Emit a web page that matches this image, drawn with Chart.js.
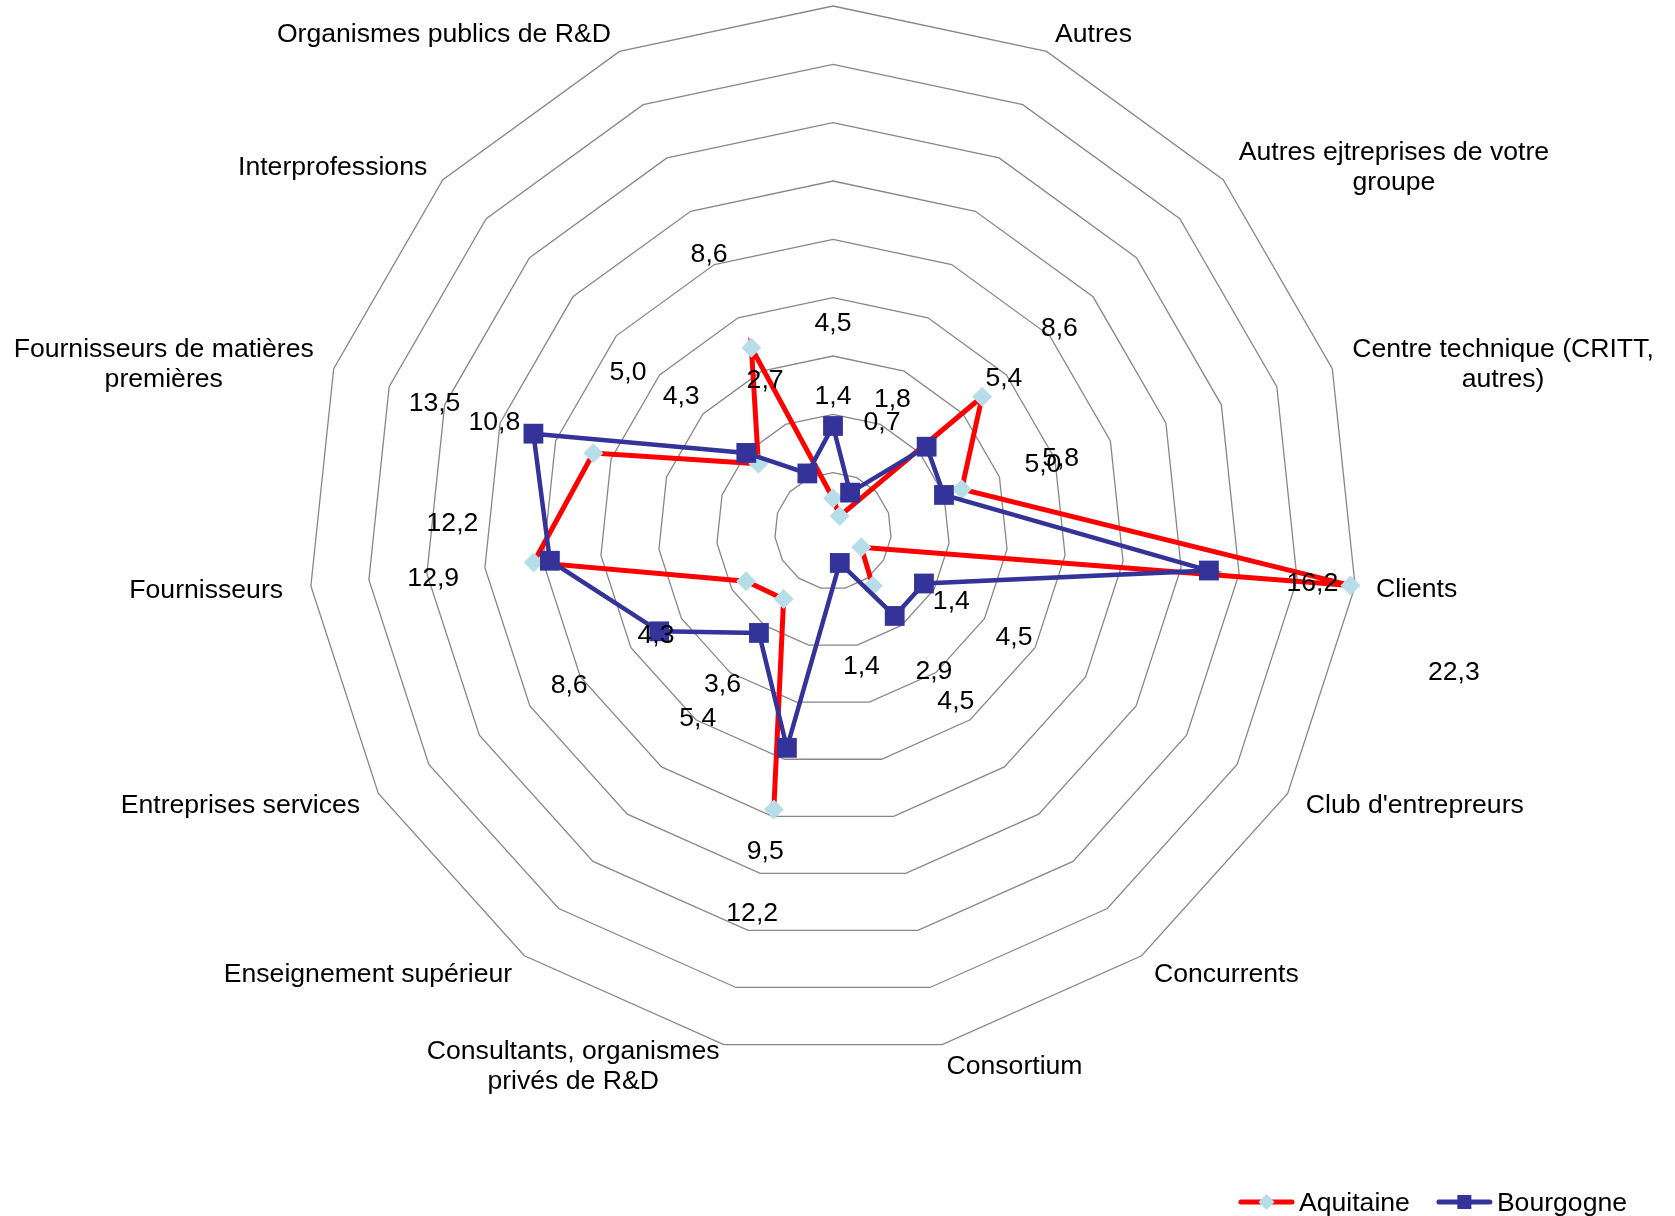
<!DOCTYPE html>
<html><head><meta charset="utf-8">
<script src="https://cdn.jsdelivr.net/npm/chart.js@4/dist/chart.umd.min.js"></script>
<style>html,body{margin:0;padding:0;background:#fff}canvas{display:block}</style>
</head><body>
<canvas id="c" width="1675" height="1216"></canvas>
<script>
// ---- data ----
const categories = ["", "Autres", ["Autres ejtreprises de votre", "groupe"], ["Centre technique (CRITT,", "autres)"],
  "Clients", "Club d'entrepreurs", "Concurrents", "Consortium", ["Consultants, organismes", "privés de R&D"],
  "Enseignement supérieur", "Entreprises services", "Fournisseurs", ["Fournisseurs de matières", "premières"],
  "Interprofessions", "Organismes publics de R&D"];
const aquitaine = [1.4, 0.7, 8.6, 5.8, 22.3, 1.4, 2.9, null, 12.2, 3.6, 4.3, 12.9, 10.8, 4.3, 8.6];
const bourgogne = [4.5, 1.8, 5.4, 5.0, 16.2, 4.5, 4.5, 1.4, 9.5, 5.4, 8.6, 12.2, 13.5, 5.0, 2.7];
const seriesNames = ["Aquitaine", "Bourgogne"];
const scaleMax = 22.5;
const scaleStep = 2.5;

// ---- style ----
const FONT = '26.6px "Liberation Sans", Arial, sans-serif';
const TEXT_DY = 2;
const RED = '#FF0000', BLUE = '#333399', CYAN = '#B7DEE8';
const valueLabelOffset = 104;
const valueLabelNudge = { '0:4': [0, 74], '1:11': [6, -50], '0:11': [3, 3], '1:13': [-41, -13] };
const pointLabelPad = 21;
const pointLabelExtraPad = { 11: 7 };

const pointLabelPlugin = {
  id: 'pointLabelsExcel',
  afterDraw(chart) {
    const s = chart.scales.r, ctx = chart.ctx;
    ctx.save();
    ctx.font = FONT; ctx.fillStyle = '#000'; ctx.textBaseline = 'middle'; ctx.textAlign = 'center';
    const lh = 30;
    chart.data.labels.forEach((lab, i) => {
      const lines = Array.isArray(lab) ? lab : [lab];
      if (!lines.join('')) return;
      const p = s.getPointPosition(i, s.drawingArea + pointLabelPad + (pointLabelExtraPad[i] || 0));
      const c = Math.cos(p.angle);
      const w = Math.max(...lines.map(l => ctx.measureText(l).width));
      let left;
      if (Math.abs(c) < 1e-3) left = p.x - w / 2;
      else if (c > 0) left = p.x;
      else left = p.x - w;
      lines.forEach((l, j) => ctx.fillText(l, left + w / 2, p.y + TEXT_DY + (j - (lines.length - 1) / 2) * lh));
    });
    ctx.restore();
  }
};

const valueLabelPlugin = {
  id: 'valueLabels',
  afterDatasetsDraw(chart) {
    const s = chart.scales.r, ctx = chart.ctx;
    ctx.save();
    ctx.font = FONT; ctx.fillStyle = '#000'; ctx.textBaseline = 'middle'; ctx.textAlign = 'center';
    chart.data.datasets.forEach((ds, di) => {
      const meta = chart.getDatasetMeta(di);
      meta.data.forEach((pt, i) => {
        const v = ds.data[i];
        if (v === null || v === undefined) return;
        const a = s.getPointPosition(i, 10).angle;
        let x = pt.x + valueLabelOffset * Math.cos(a);
        let y = pt.y + valueLabelOffset * Math.sin(a) + TEXT_DY;
        const n = valueLabelNudge[di + ':' + i];
        if (n) { x += n[0]; y += n[1]; }
        ctx.fillText(v.toFixed(1).replace('.', ','), x, y);
      });
    });
    ctx.restore();
  }
};

const legendPlugin = {
  id: 'excelLegend',
  afterDraw(chart) {
    const ctx = chart.ctx;
    ctx.save();
    ctx.font = FONT; ctx.textBaseline = 'middle'; ctx.textAlign = 'left';
    const lineLen = 55, gapText = 5, gapItem = 27, rightEdge = 1627, y = 1202;
    const ds = chart.data.datasets;
    const widths = ds.map(d => lineLen + gapText + ctx.measureText(d.label).width);
    let x = rightEdge - widths.reduce((a, b) => a + b, 0) - gapItem * (ds.length - 1);
    ds.forEach((d, i) => {
      ctx.strokeStyle = d.borderColor; ctx.lineWidth = 5; ctx.lineCap = 'round';
      ctx.beginPath(); ctx.moveTo(x + 2, y); ctx.lineTo(x + lineLen - 2, y); ctx.stroke();
      const cx = x + lineLen / 2;
      ctx.fillStyle = d.pointBackgroundColor;
      if (d.pointStyle === 'rectRot') {
        ctx.beginPath(); ctx.moveTo(cx, y - 8); ctx.lineTo(cx + 8, y); ctx.lineTo(cx, y + 8); ctx.lineTo(cx - 8, y); ctx.closePath(); ctx.fill();
      } else {
        ctx.fillRect(cx - 7, y - 7, 14, 14);
      }
      ctx.fillStyle = '#000';
      ctx.fillText(d.label, x + lineLen + gapText, y + TEXT_DY);
      x += widths[i] + gapItem;
    });
    ctx.restore();
  }
};

new Chart(document.getElementById('c'), {
  type: 'radar',
  data: {
    labels: categories,
    datasets: [
      { label: seriesNames[0], data: aquitaine, borderColor: RED, borderWidth: 5, fill: false,
        pointStyle: 'rectRot', pointRadius: 10, pointBackgroundColor: CYAN, pointBorderColor: CYAN, pointBorderWidth: 0,
        order: 1, spanGaps: false },
      { label: seriesNames[1], data: bourgogne, borderColor: BLUE, borderWidth: 4.5, fill: false,
        pointStyle: 'rect', pointRadius: 14, pointBackgroundColor: BLUE, pointBorderColor: BLUE, pointBorderWidth: 0,
        order: 0, spanGaps: false }
    ]
  },
  options: {
    responsive: false,
    animation: false,
    devicePixelRatio: 1,
    layout: { padding: { top: 6, bottom: 159, left: 0, right: 9 } },
    elements: { line: { tension: 0 } },
    plugins: { legend: { display: false }, tooltip: { enabled: false } },
    scales: {
      r: {
        min: 0, max: scaleMax,
        ticks: { stepSize: scaleStep, display: false },
        grid: { circular: false, color: '#878787', lineWidth: 1.3 },
        angleLines: { display: false },
        pointLabels: { display: false }
      }
    }
  },
  plugins: [pointLabelPlugin, valueLabelPlugin, legendPlugin]
});
</script>
</body></html>
